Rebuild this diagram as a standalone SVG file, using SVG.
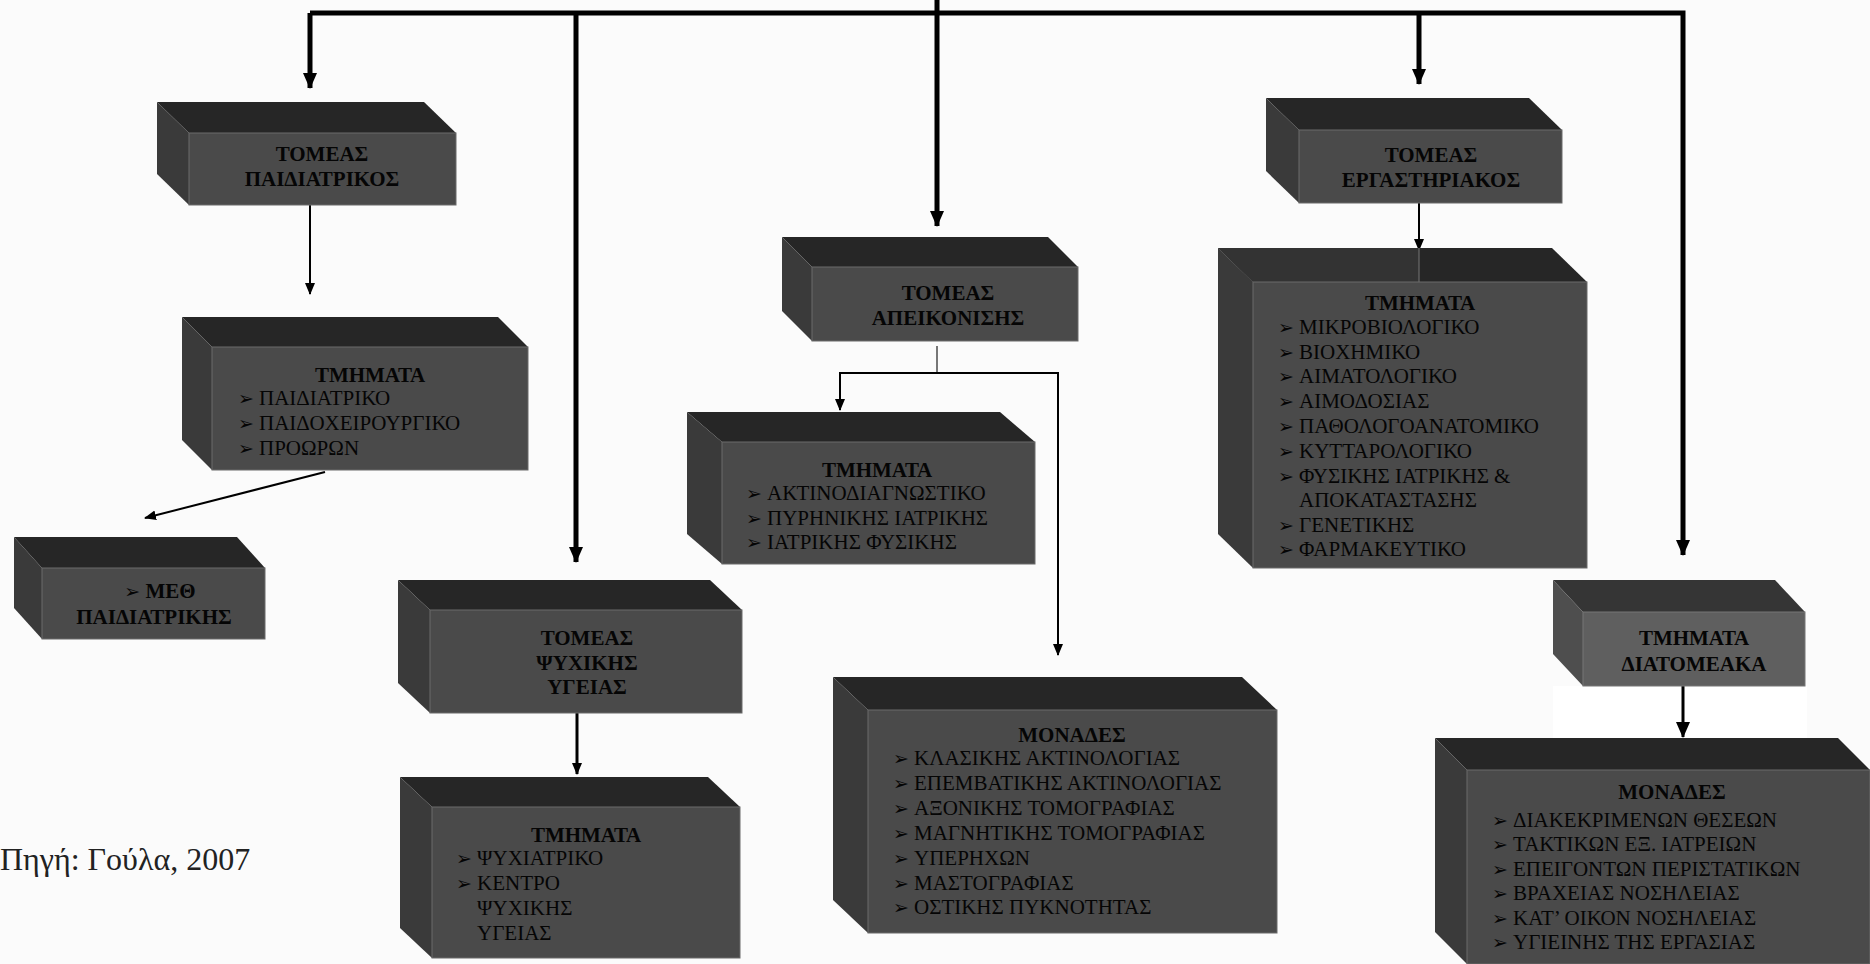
<svg xmlns="http://www.w3.org/2000/svg" width="1870" height="964" viewBox="0 0 1870 964">
<style>
.bg{fill:#fbfbfb}
.top{fill:#262626}
.left{fill:#3a3a3a}
.front{fill:#4a4a4a;stroke:#6a6a6a;stroke-width:1}
.topL{fill:#353535}
.leftL{fill:#4e4e4e}
.frontL{fill:#5f5f5f;stroke:#777;stroke-width:1}
text{font-family:"Liberation Serif","Times New Roman",serif;font-size:21px;fill:#050505}
.h{font-weight:bold;text-anchor:middle}
.b{font-family:"DejaVu Sans",sans-serif;font-size:19px}
.cap{font-size:32px;fill:#222}
.c{fill:none;stroke:#000}
.thick{stroke-width:5}
.thin{stroke-width:2}
.mid{stroke-width:3}
</style>
<defs>
<marker id="ah" markerUnits="userSpaceOnUse" markerWidth="16" markerHeight="16" viewBox="0 0 16 16" refX="15" refY="8" orient="auto">
<path d="M0,1 L16,8 L0,15 Z" fill="#000"/>
</marker>
<marker id="ahs" markerUnits="userSpaceOnUse" markerWidth="12" markerHeight="12" viewBox="0 0 12 12" refX="11" refY="6" orient="auto">
<path d="M0,1 L12,6 L0,11 Z" fill="#000"/>
</marker>
</defs>
<rect class="bg" x="0" y="0" width="1870" height="964"/>
<rect x="1553" y="686" width="254" height="52" fill="#ffffff"/>

<g id="connectors">
<polyline class="c thick" points="310,13 1683,13 1683,555" marker-end="url(#ah)"/>
<line class="c thick" x1="310" y1="13" x2="310" y2="88" marker-end="url(#ah)"/>
<line class="c thick" x1="576" y1="13" x2="576" y2="562" marker-end="url(#ah)"/>
<line class="c thick" x1="937" y1="0" x2="937" y2="226" marker-end="url(#ah)"/>
<line class="c thick" x1="1419" y1="13" x2="1419" y2="84" marker-end="url(#ah)"/>
<line class="c thin" x1="310" y1="205" x2="310" y2="294" marker-end="url(#ahs)"/>
<line class="c thin" x1="325" y1="472" x2="145" y2="518" marker-end="url(#ahs)"/>
<line class="c mid" x1="577" y1="713" x2="577" y2="774" marker-end="url(#ahs)"/>
<line class="c thin" x1="937" y1="346" x2="937" y2="373" style="stroke:#777"/>
<polyline class="c thin" points="840,373 1058,373 1058,655" marker-end="url(#ahs)"/>
<line class="c thin" x1="840" y1="372" x2="840" y2="410" marker-end="url(#ahs)"/>
<line class="c thin" x1="1419" y1="203" x2="1419" y2="250" marker-end="url(#ahs)"/>
<line class="c mid" x1="1683" y1="686" x2="1683" y2="737" marker-end="url(#ah)"/>
</g>

<g id="n-tomeas-paidiatrikos">
<polygon class="top" points="157,102 424,102 456,133 189,133"/>
<polygon class="left" points="157,102 189,133 189,205 157,174"/>
<rect class="front" x="189" y="133" width="267" height="72"/>
<text class="h" x="322" y="161">ΤΟΜΕΑΣ</text>
<text class="h" x="322" y="186">ΠΑΙΔΙΑΤΡΙΚΟΣ</text>
</g>

<g id="n-tmimata-paid">
<polygon class="top" points="182,317 498,317 528,347 212,347"/>
<polygon class="left" points="182,317 212,347 212,470 182,440"/>
<rect class="front" x="212" y="347" width="316" height="123"/>
<text class="h" x="370" y="382">ΤΜΗΜΑΤΑ</text>
<text y="405"><tspan class="b" x="238">➢</tspan><tspan x="259">ΠΑΙΔΙΑΤΡΙΚΟ</tspan></text>
<text y="430"><tspan class="b" x="238">➢</tspan><tspan x="259">ΠΑΙΔΟΧΕΙΡΟΥΡΓΙΚΟ</tspan></text>
<text y="455"><tspan class="b" x="238">➢</tspan><tspan x="259">ΠΡΟΩΡΩΝ</tspan></text>
</g>

<g id="n-meth">
<polygon class="top" points="14,537 237,537 265,568 42,568"/>
<polygon class="left" points="14,537 42,568 42,639 14,608"/>
<rect class="front" x="42" y="568" width="223" height="71"/>
<text class="h" x="160" y="598"><tspan class="b">➢</tspan> ΜΕΘ</text>
<text class="h" x="154" y="624">ΠΑΙΔΙΑΤΡΙΚΗΣ</text>
</g>

<g id="n-tomeas-psychikis">
<polygon class="top" points="398,580 710,580 742,610 430,610"/>
<polygon class="left" points="398,580 430,610 430,713 398,683"/>
<rect class="front" x="430" y="610" width="312" height="103"/>
<text class="h" x="587" y="645">ΤΟΜΕΑΣ</text>
<text class="h" x="587" y="670">ΨΥΧΙΚΗΣ</text>
<text class="h" x="587" y="694">ΥΓΕΙΑΣ</text>
</g>

<g id="n-tmimata-psych">
<polygon class="top" points="400,777 708,777 740,807 432,807"/>
<polygon class="left" points="400,777 432,807 432,958 400,928"/>
<rect class="front" x="432" y="807" width="308" height="151"/>
<text class="h" x="586" y="842">ΤΜΗΜΑΤΑ</text>
<text y="865"><tspan class="b" x="456">➢</tspan><tspan x="477">ΨΥΧΙΑΤΡΙΚΟ</tspan></text>
<text y="890"><tspan class="b" x="456">➢</tspan><tspan x="477">ΚΕΝΤΡΟ</tspan></text>
<text x="477" y="915">ΨΥΧΙΚΗΣ</text>
<text x="477" y="940">ΥΓΕΙΑΣ</text>
</g>

<g id="n-tomeas-apeikonisis">
<polygon class="top" points="782,237 1048,237 1078,267 812,267"/>
<polygon class="left" points="782,237 812,267 812,341 782,311"/>
<rect class="front" x="812" y="267" width="266" height="74"/>
<text class="h" x="948" y="300">ΤΟΜΕΑΣ</text>
<text class="h" x="948" y="325">ΑΠΕΙΚΟΝΙΣΗΣ</text>
</g>

<g id="n-tmimata-apeik">
<polygon class="top" points="687,412 1000,412 1035,442 722,442"/>
<polygon class="left" points="687,412 722,442 722,564 687,534"/>
<rect class="front" x="722" y="442" width="313" height="122"/>
<text class="h" x="877" y="477">ΤΜΗΜΑΤΑ</text>
<text y="500"><tspan class="b" x="746">➢</tspan><tspan x="767">ΑΚΤΙΝΟΔΙΑΓΝΩΣΤΙΚΟ</tspan></text>
<text y="525"><tspan class="b" x="746">➢</tspan><tspan x="767">ΠΥΡΗΝΙΚΗΣ ΙΑΤΡΙΚΗΣ</tspan></text>
<text y="549"><tspan class="b" x="746">➢</tspan><tspan x="767">ΙΑΤΡΙΚΗΣ ΦΥΣΙΚΗΣ</tspan></text>
</g>

<g id="n-monades-apeik">
<polygon class="top" points="833,677 1242,677 1277,710 868,710"/>
<polygon class="left" points="833,677 868,710 868,933 833,900"/>
<rect class="front" x="868" y="710" width="409" height="223"/>
<text class="h" x="1072" y="742">ΜΟΝΑΔΕΣ</text>
<text y="765"><tspan class="b" x="893">➢</tspan><tspan x="914">ΚΛΑΣΙΚΗΣ ΑΚΤΙΝΟΛΟΓΙΑΣ</tspan></text>
<text y="790"><tspan class="b" x="893">➢</tspan><tspan x="914">ΕΠΕΜΒΑΤΙΚΗΣ ΑΚΤΙΝΟΛΟΓΙΑΣ</tspan></text>
<text y="815"><tspan class="b" x="893">➢</tspan><tspan x="914">ΑΞΟΝΙΚΗΣ ΤΟΜΟΓΡΑΦΙΑΣ</tspan></text>
<text y="840"><tspan class="b" x="893">➢</tspan><tspan x="914">ΜΑΓΝΗΤΙΚΗΣ ΤΟΜΟΓΡΑΦΙΑΣ</tspan></text>
<text y="865"><tspan class="b" x="893">➢</tspan><tspan x="914">ΥΠΕΡΗΧΩΝ</tspan></text>
<text y="890"><tspan class="b" x="893">➢</tspan><tspan x="914">ΜΑΣΤΟΓΡΑΦΙΑΣ</tspan></text>
<text y="914"><tspan class="b" x="893">➢</tspan><tspan x="914">ΟΣΤΙΚΗΣ ΠΥΚΝΟΤΗΤΑΣ</tspan></text>
</g>

<g id="n-tomeas-ergastiriakos">
<polygon class="top" points="1266,98 1529,98 1562,130 1299,130"/>
<polygon class="left" points="1266,98 1299,130 1299,203 1266,171"/>
<rect class="front" x="1299" y="130" width="263" height="73"/>
<text class="h" x="1431" y="162">ΤΟΜΕΑΣ</text>
<text class="h" x="1431" y="187">ΕΡΓΑΣΤΗΡΙΑΚΟΣ</text>
</g>

<g id="n-tmimata-ergast">
<polygon class="top" points="1218,248 1552,248 1587,282 1253,282"/>
<polygon points="1218,248 1419,248 1419,282 1253,282" fill="#333"/>
<line x1="1419" y1="248" x2="1419" y2="282" stroke="#777" stroke-width="1"/>
<polygon class="left" points="1218,248 1253,282 1253,568 1218,534"/>
<rect class="front" x="1253" y="282" width="334" height="286"/>
<text class="h" x="1420" y="310">ΤΜΗΜΑΤΑ</text>
<text y="334"><tspan class="b" x="1278">➢</tspan><tspan x="1299">ΜΙΚΡΟΒΙΟΛΟΓΙΚΟ</tspan></text>
<text y="359"><tspan class="b" x="1278">➢</tspan><tspan x="1299">ΒΙΟΧΗΜΙΚΟ</tspan></text>
<text y="383"><tspan class="b" x="1278">➢</tspan><tspan x="1299">ΑΙΜΑΤΟΛΟΓΙΚΟ</tspan></text>
<text y="408"><tspan class="b" x="1278">➢</tspan><tspan x="1299">ΑΙΜΟΔΟΣΙΑΣ</tspan></text>
<text y="433"><tspan class="b" x="1278">➢</tspan><tspan x="1299">ΠΑΘΟΛΟΓΟΑΝΑΤΟΜΙΚΟ</tspan></text>
<text y="458"><tspan class="b" x="1278">➢</tspan><tspan x="1299">ΚΥΤΤΑΡΟΛΟΓΙΚΟ</tspan></text>
<text y="483"><tspan class="b" x="1278">➢</tspan><tspan x="1299">ΦΥΣΙΚΗΣ ΙΑΤΡΙΚΗΣ &amp;</tspan></text>
<text x="1299" y="507">ΑΠΟΚΑΤΑΣΤΑΣΗΣ</text>
<text y="532"><tspan class="b" x="1278">➢</tspan><tspan x="1299">ΓΕΝΕΤΙΚΗΣ</tspan></text>
<text y="556"><tspan class="b" x="1278">➢</tspan><tspan x="1299">ΦΑΡΜΑΚΕΥΤΙΚΟ</tspan></text>
</g>

<g id="n-tmimata-diatomeaka">
<polygon class="topL" points="1553,580 1775,580 1805,612 1583,612"/>
<polygon class="leftL" points="1553,580 1583,612 1583,686 1553,654"/>
<rect class="frontL" x="1583" y="612" width="222" height="74"/>
<text class="h" x="1694" y="645">ΤΜΗΜΑΤΑ</text>
<text class="h" x="1694" y="671">ΔΙΑΤΟΜΕΑΚΑ</text>
</g>

<g id="n-monades-diatomeaka">
<polygon class="top" points="1435,738 1838,738 1870,770 1467,770"/>
<polygon class="left" points="1435,738 1467,770 1467,964 1435,932"/>
<rect class="front" x="1467" y="770" width="403" height="194"/>
<text class="h" x="1672" y="799">ΜΟΝΑΔΕΣ</text>
<text y="827"><tspan class="b" x="1492">➢</tspan><tspan x="1513">ΔΙΑΚΕΚΡΙΜΕΝΩΝ ΘΕΣΕΩΝ</tspan></text>
<text y="851"><tspan class="b" x="1492">➢</tspan><tspan x="1513">ΤΑΚΤΙΚΩΝ ΕΞ. ΙΑΤΡΕΙΩΝ</tspan></text>
<text y="876"><tspan class="b" x="1492">➢</tspan><tspan x="1513">ΕΠΕΙΓΟΝΤΩΝ ΠΕΡΙΣΤΑΤΙΚΩΝ</tspan></text>
<text y="900"><tspan class="b" x="1492">➢</tspan><tspan x="1513">ΒΡΑΧΕΙΑΣ ΝΟΣΗΛΕΙΑΣ</tspan></text>
<text y="925"><tspan class="b" x="1492">➢</tspan><tspan x="1513">ΚΑΤ’ ΟΙΚΟΝ ΝΟΣΗΛΕΙΑΣ</tspan></text>
<text y="949"><tspan class="b" x="1492">➢</tspan><tspan x="1513">ΥΓΙΕΙΝΗΣ ΤΗΣ ΕΡΓΑΣΙΑΣ</tspan></text>
</g>

<text class="cap" x="0" y="870">Πηγή: Γούλα, 2007</text>
</svg>
